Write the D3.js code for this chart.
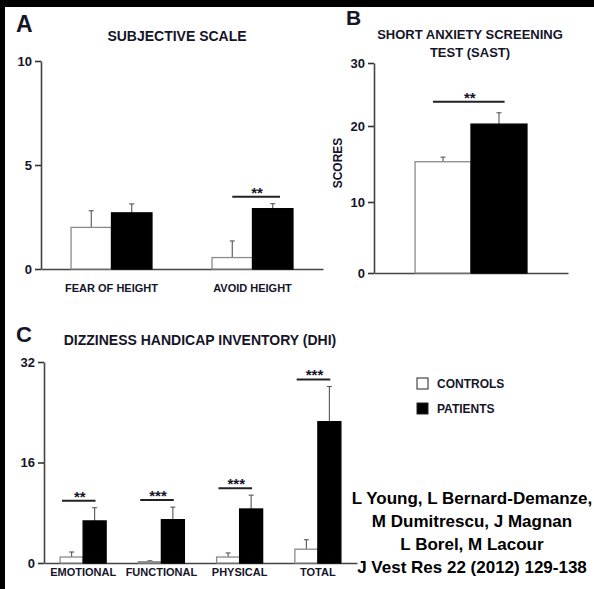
<!DOCTYPE html>
<html lang="en">
<head>
<meta charset="UTF-8">
<title>Subjective scale, SAST and DHI</title>
<style>
  html, body { margin: 0; padding: 0; background: #fff; overflow: hidden; }
  svg text { font-family: "Liberation Sans", Arial, sans-serif; font-weight: bold; fill: #15152a; }
</style>
</head>
<body>
<svg id="chart" width="594" height="589"></svg>
<script src="https://cdn.jsdelivr.net/npm/d3@7"></script>
<script>
// series
const seriesNames = ['CONTROLS', 'PATIENTS'];

// panel A - subjective scale
const aCategories = ['FEAR OF HEIGHT', 'AVOID HEIGHT'];
const aControls = [2.0, 0.55];
const aControlsErr = [0.8, 0.8];
const aPatients = [2.7, 2.9];
const aPatientsErr = [0.43, 0.24];
const aSig = ['', '**'];
const aTicks = [0, 5, 10];

// panel B - SAST
const bCategories = ['SAST'];
const bControls = [15.3];
const bControlsErr = [0.6];
const bPatients = [20.3];
const bPatientsErr = [1.8];
const bSig = ['**'];
const bTicks = [0, 10, 20, 30];

// panel C - DHI
const cCategories = ['EMOTIONAL', 'FUNCTIONAL', 'PHYSICAL', 'TOTAL'];
const cControls = [0.95, 0.2, 0.95, 2.2];
const cControlsErr = [0.8, 0.15, 0.65, 1.5];
const cPatients = [6.7, 6.9, 8.6, 22.5];
const cPatientsErr = [2.1, 2.0, 2.2, 5.6];
const cSig = ['**', '***', '***', '***'];
const cTicks = [0, 16, 32];

const citation = [
  'L Young, L Bernard-Demanze,',
  'M Dumitrescu, J Magnan',
  'L Borel, M Lacour',
  'J Vest Res 22 (2012) 129-138'
];

const svg = d3.select('#chart');

// black scan border (top and left)
svg.append('rect').attr('x', 0).attr('y', 0).attr('width', 594).attr('height', 7).attr('fill', '#000');
svg.append('rect').attr('x', 0).attr('y', 0).attr('width', 5).attr('height', 589).attr('fill', '#000');

function panel(opt) {
  const g = svg.append('g');
  const x = d3.scaleBand().domain(opt.categories).range(opt.xRange)
    .paddingInner(opt.pad).paddingOuter(opt.pad / 2);
  const xs = d3.scaleBand().domain(seriesNames).range([0, x.bandwidth()]);
  const y = opt.y;

  // x axis: plain line + labels
  const xAxis = g.append('g')
    .attr('transform', `translate(0,${y(0)})`)
    .call(d3.axisBottom(x).tickSize(0).tickSizeOuter(0).tickPadding(opt.labelPad)
      .tickFormat(opt.showLabels ? d => d : () => ''));
  xAxis.select('.domain').attr('stroke', '#444').attr('stroke-width', 1.6);
  xAxis.selectAll('text').style('font-size', '11px').attr('fill', '#15152a');
  xAxis.attr('font-family', null).attr('font-size', null);

  // y axis
  const yAxis = g.append('g')
    .attr('transform', `translate(${opt.xRange[0]},0)`)
    .call(d3.axisLeft(y).tickValues(opt.ticks).tickSize(6).tickSizeOuter(0).tickPadding(3));
  yAxis.select('.domain').attr('stroke', '#444').attr('stroke-width', 1.6);
  yAxis.selectAll('.tick line').attr('stroke', '#333').attr('stroke-width', 1.6);
  yAxis.selectAll('text').style('font-size', '13px').attr('fill', '#15152a');
  yAxis.attr('font-family', null).attr('font-size', null);

  const rows = opt.categories.map((c, i) => ({
    cat: c,
    vals: [
      { s: seriesNames[0], v: opt.controls[i], e: opt.controlsErr[i] },
      { s: seriesNames[1], v: opt.patients[i], e: opt.patientsErr[i] }
    ],
    sig: opt.sig[i]
  }));

  const grp = g.selectAll('.grp').data(rows).join('g')
    .attr('transform', d => `translate(${x(d.cat)},0)`);

  // error bars (behind bars)
  grp.selectAll('.err').data(d => d.vals).join('g').each(function (d) {
    const cx = xs(d.s) + xs.bandwidth() / 2;
    const e = d3.select(this);
    e.append('line').attr('x1', cx).attr('x2', cx).attr('y1', y(d.v)).attr('y2', y(d.v + d.e))
      .attr('stroke', '#555').attr('stroke-width', 1.1);
    e.append('line').attr('x1', cx - 2.5).attr('x2', cx + 2.5).attr('y1', y(d.v + d.e)).attr('y2', y(d.v + d.e))
      .attr('stroke', '#555').attr('stroke-width', 1.1);
  });

  grp.selectAll('.bar').data(d => d.vals).join('rect')
    .attr('x', d => xs(d.s))
    .attr('width', xs.bandwidth())
    .attr('y', d => y(d.v))
    .attr('height', d => y(0) - y(d.v))
    .attr('fill', d => d.s === 'PATIENTS' ? '#000' : '#fff')
    .attr('stroke', d => d.s === 'PATIENTS' ? '#000' : '#8a8a8a')
    .attr('stroke-width', 1.3);

  // significance markers
  const sigG = grp.filter(d => d.sig !== '');
  sigG.each(function (d) {
    const ly = d3.min(d.vals, v => y(v.v + v.e)) - opt.sigGap;
    const x1 = x.bandwidth() * opt.sigFrom, x2 = x.bandwidth() * opt.sigTo;
    const s = d3.select(this);
    s.append('line').attr('x1', x1).attr('x2', x2).attr('y1', ly).attr('y2', ly)
      .attr('stroke', '#222').attr('stroke-width', 2);
    s.append('text').attr('x', (x1 + x2) / 2 + 1).attr('y', ly + 1)
      .attr('text-anchor', 'middle').style('font-size', '15px').text(d.sig);
  });
  return g;
}

// Panel A
panel({
  categories: aCategories, controls: aControls, controlsErr: aControlsErr,
  patients: aPatients, patientsErr: aPatientsErr, sig: aSig, ticks: aTicks,
  xRange: [41, 323], pad: 0.426, labelPad: 15, showLabels: true,
  y: d3.scaleLinear().domain([0, 10]).range([269, 61]),
  sigGap: 7, sigFrom: 0.25, sigTo: 0.84
});

// Panel B (the printed axis is not evenly spaced)
panel({
  categories: bCategories, controls: bControls, controlsErr: bControlsErr,
  patients: bPatients, patientsErr: bPatientsErr, sig: bSig, ticks: bTicks,
  xRange: [374, 568], pad: 0.423, labelPad: 10, showLabels: false,
  y: d3.scaleLinear().domain([0, 10, 20, 30]).range([273, 202, 126, 63]),
  sigGap: 11, sigFrom: 0.16, sigTo: 0.8
});

// Panel C
panel({
  categories: cCategories, controls: cControls, controlsErr: cControlsErr,
  patients: cPatients, patientsErr: cPatientsErr, sig: cSig, ticks: cTicks,
  xRange: [44, 357], pad: 0.412, labelPad: 5, showLabels: true,
  y: d3.scaleLinear().domain([0, 32]).range([563, 362]),
  sigGap: 7, sigFrom: 0.04, sigTo: 0.77
});

// panel letters and titles
const label = (t, x, y, size, anchor) => svg.append('text').attr('x', x).attr('y', y)
  .attr('text-anchor', anchor || 'start').style('font-size', size + 'px').text(t);

label('A', 16, 32, 23);
label('B', 346, 25, 21);
label('C', 16, 342, 22);
label('SUBJECTIVE SCALE', 177, 41, 14, 'middle');
label('SHORT ANXIETY SCREENING', 470, 39, 13, 'middle');
label('TEST (SAST)', 470, 57, 13, 'middle');
label('DIZZINESS HANDICAP INVENTORY (DHI)', 200, 345, 14, 'middle');

svg.append('text').attr('transform', 'translate(342,163) rotate(-90)')
  .attr('text-anchor', 'middle').style('font-size', '12px').text('SCORES');

// legend
const leg = svg.append('g').attr('transform', 'translate(417,378)');
seriesNames.forEach((s, i) => {
  leg.append('rect').attr('x', 0).attr('y', i * 25).attr('width', 11).attr('height', 11)
    .attr('fill', i ? '#000' : '#fff').attr('stroke', '#222').attr('stroke-width', 1);
  leg.append('text').attr('x', 20).attr('y', i * 25 + 10).style('font-size', '12px').text(s);
});

// citation
svg.append('g').selectAll('text').data(citation).join('text')
  .attr('x', 472).attr('y', (d, i) => 504 + i * 23)
  .attr('text-anchor', 'middle').style('font-size', '17px')
  .style('fill', '#000').text(d => d);
</script>
</body>
</html>
